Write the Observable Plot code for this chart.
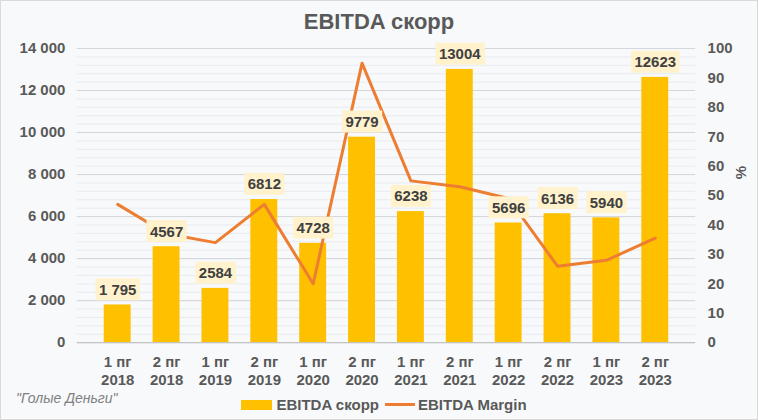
<!DOCTYPE html>
<html>
<head>
<meta charset="utf-8">
<script src="https://cdn.jsdelivr.net/npm/d3@7"></script>
<script src="https://cdn.jsdelivr.net/npm/@observablehq/plot@0.6"></script>
<style>
  html, body { margin: 0; padding: 0; background: #ffffff; }
  #wrap {
    position: relative; width: 756px; height: 418px;
    border: 1px solid #d9d9d9; background: #f8f9fb; overflow: hidden;
    font-family: "Liberation Sans", Arial, sans-serif; color: #595959;
  }
  #title {
    position: absolute; top: 8px; left: 0; width: 100%; text-align: center;
    font-size: 22px; font-weight: bold; color: #595959;
  }
  #chart { position: absolute; top: 36px; left: 0; }
  #pct {
    position: absolute; left: 733px; top: 163px; font-size: 15px; font-weight: bold;
    transform: rotate(-90deg); transform-origin: center; color: #595959;
  }
  #legend {
    position: absolute; top: 395px; left: 0; width: 766px; display: flex;
    justify-content: center; align-items: center; font-size: 15px; font-weight: bold; color: #595959;
  }
  .sw-bar { width: 31px; height: 10px; background: #FFC000; margin-right: 4px; }
  .sw-line { width: 30px; height: 3px; background: #ED7D31; margin-left: 6px; margin-right: 3px; }
  #caption {
    position: absolute; left: 15px; top: 389px; font-size: 14px; font-style: italic; color: #7f7f7f;
  }
</style>
</head>
<body>
<div id="wrap">
  <div id="title">EBITDA скорр</div>
  <div id="chart"></div>
  <div id="pct">%</div>
  <div id="caption">"Голые Деньги"</div>
  <div id="legend"><div class="sw-bar"></div><span>EBITDA скорр</span><div class="sw-line"></div><span>EBITDA Margin</span></div>
</div>
<script>
const halves = ["1 пг","2 пг","1 пг","2 пг","1 пг","2 пг","1 пг","2 пг","1 пг","2 пг","1 пг","2 пг"];
const years = ["2018","2018","2019","2019","2020","2020","2021","2021","2022","2022","2023","2023"];
const ebitda = [1795, 4567, 2584, 6812, 4728, 9779, 6238, 13004, 5696, 6136, 5940, 12623];
const margin = [47, 37, 34, 47, 20, 95, 55, 53, 49, 26, 28, 35.5];
const labels = ["1 795","4567","2584","6812","4728","9779","6238","13004","5696","6136","5940","12623"];
const leftTicks = [0, 2000, 4000, 6000, 8000, 10000, 12000, 14000];
const rightTicks = [0, 10, 20, 30, 40, 50, 60, 70, 80, 90, 100];
const minorStep = 400;
const leftMax = 14000, rightMax = 100;
const k = leftMax / rightMax;

const periods = halves.map((h, i) => h + "\n" + years[i]);
const data = periods.map((p, i) => ({period: p, ebitda: ebitda[i], margin: margin[i], label: labels[i]}));
const minorTicks = d3.range(0, leftMax + 1, minorStep);

const chart = Plot.plot({
  width: 758, height: 352,
  marginTop: 11, marginBottom: 46, marginLeft: 76, marginRight: 62,
  style: {background: "transparent", fontFamily: "Liberation Sans, Arial, sans-serif", fontSize: "15px", color: "#595959", overflow: "visible"},
  x: {domain: periods, padding: 0.44},
  y: {domain: [0, leftMax]},
  marks: [
    Plot.ruleY(minorTicks, {stroke: "#e8ebef", strokeWidth: 1}),
    Plot.ruleY(leftTicks, {stroke: "#d3d6db", strokeWidth: 1}),
    Plot.barY(data, {x: "period", y: "ebitda", fill: "#FFC000"}),
    Plot.ruleY([0], {stroke: "#bfbfbf"}),
    Plot.line(data, {x: "period", y: d => d.margin * k, stroke: "#ED7D31", strokeWidth: 3, strokeLinejoin: "round", strokeLinecap: "round"}),
    Plot.text(data, {x: "period", y: "ebitda", text: "label", dy: -15, fontWeight: "bold", fontSize: 15, fill: "#404040"}),
    Plot.axisX({tickSize: 0, tickPadding: 12, fontWeight: "bold", lineHeight: 1.2, label: null}),
    Plot.axisY(leftTicks, {anchor: "left", tickSize: 0, tickPadding: 12, fontWeight: "bold", label: null,
      tickFormat: d => d3.format(",")(d).replace(/,/g, " ")}),
    Plot.axisY(rightTicks.map(v => v * k), {anchor: "right", tickSize: 0, tickPadding: 12, fontWeight: "bold", label: null,
      tickFormat: d => String(Math.round(d / k))})
  ]
});
document.getElementById("chart").appendChild(chart);

// background boxes behind bar labels (the plain "text" mark group)
const g = chart.querySelector('g[aria-label="text"]');
if (g) {
  g.querySelectorAll("text").forEach(t => {
    const b = t.getBBox();
    const r = document.createElementNS("http://www.w3.org/2000/svg", "rect");
    r.setAttribute("x", b.x - 3.5);
    r.setAttribute("y", b.y - 2.5);
    r.setAttribute("width", b.width + 7);
    r.setAttribute("height", b.height + 5);
    r.setAttribute("fill", "#fff2cc");
    const tr = t.getAttribute("transform");
    if (tr) r.setAttribute("transform", tr);
    g.insertBefore(r, t);
  });
}
</script>
</body>
</html>
